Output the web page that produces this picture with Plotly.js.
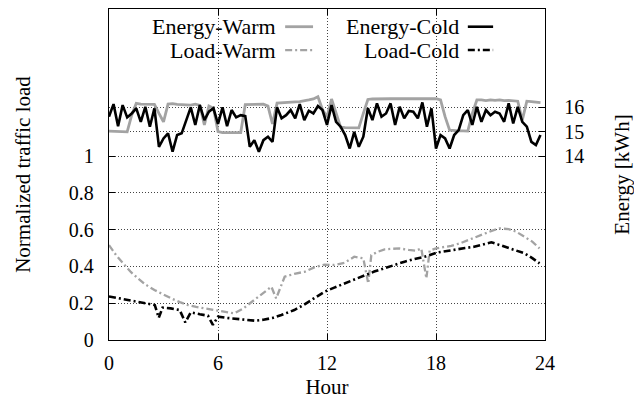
<!DOCTYPE html>
<html>
<head>
<meta charset="utf-8">
<script src="https://cdn.plot.ly/plotly-3.0.1.min.js"></script>
<style>
html,body{margin:0;padding:0;background:#fff;}
#chart{width:634px;height:407px;}
#chart text{font-family:"Liberation Serif" !important;}
</style>
</head>
<body>
<div id="chart"></div>
<script>
// ---- data ----
const seriesNames = ["Energy-Warm", "Energy-Cold", "Load-Warm", "Load-Cold"];

const energyHours = [
 0,0.25,0.5,0.75,1,1.25,1.5,1.75,2,2.25,2.5,2.75,3,3.25,3.5,3.75,
 4,4.25,4.5,4.75,5,5.25,5.5,5.75,6,6.25,6.5,6.75,7,7.25,7.5,7.75,
 8,8.25,8.5,8.75,9,9.25,9.5,9.75,10,10.25,10.5,10.75,11,11.25,11.5,11.75,
 12,12.25,12.5,12.75,13,13.25,13.5,13.75,14,14.25,14.5,14.75,15,15.25,15.5,15.75,
 16,16.25,16.5,16.75,17,17.25,17.5,17.75,18,18.25,18.5,18.75,19,19.25,19.5,19.75,
 20,20.25,20.5,20.75,21,21.25,21.5,21.75,22,22.25,22.5,22.75,23,23.25,23.5,23.75
];

const energyWarm = [
 15.02,15.02,14.99,14.99,14.99,15.67,16.15,16.12,16.11,16.11,16.11,15.74,15.40,16.12,16.14,16.11,
 16.10,16.11,16.08,16.12,16.07,15.27,16.04,15.95,15.00,14.96,14.96,14.95,14.96,14.96,16.10,16.11,
 16.12,16.12,16.12,16.04,15.31,16.16,16.18,16.19,16.19,16.21,16.22,16.24,16.29,16.33,16.42,15.90,
 15.60,16.33,15.74,15.18,15.16,15.15,15.15,15.15,15.74,16.31,16.33,16.34,16.34,16.33,16.34,16.34,
 16.34,16.35,16.34,16.34,16.35,16.34,16.34,16.34,16.34,16.29,15.61,15.06,15.03,15.03,15.03,15.02,
 15.74,16.29,16.29,16.26,16.29,16.27,16.29,16.26,16.27,16.24,16.24,15.47,16.24,16.22,16.19,16.18
];

const energyCold = [
 15.61,16.12,15.22,16.08,15.58,15.74,15.95,15.40,16.01,15.20,15.95,14.38,14.72,14.93,14.18,14.86,
 14.93,15.44,15.99,15.27,16.08,15.47,15.81,15.95,15.31,15.99,15.22,15.88,15.58,15.67,15.63,14.38,
 14.65,14.18,14.65,14.79,14.58,15.99,15.54,15.67,15.88,15.54,16.12,15.47,15.85,15.74,16.04,15.88,
 15.27,16.08,15.40,15.20,14.86,14.31,14.99,14.38,14.79,15.95,15.47,16.15,15.61,15.74,16.15,15.27,
 16.01,15.54,15.84,15.81,15.54,16.19,15.20,15.95,14.31,14.86,14.72,14.31,14.86,15.06,15.67,15.88,
 15.27,16.01,15.40,15.88,15.67,15.81,15.74,15.40,16.15,15.33,16.01,15.40,15.20,14.58,14.45,14.86
];

const loadWarmHours = [0,0.4,0.86,1.2,1.6,2.0,2.5,3.0,3.43,3.9,4.35,4.8,5.27,5.6,6.0,6.5,6.9,7.4,8.0,8.5,8.94,9.2,9.67,10.2,10.77,11.3,11.87,12.4,12.97,13.5,14.0,14.27,14.44,14.8,15.17,15.6,15.99,16.5,16.9,17.19,17.47,17.65,18.0,18.4,18.84,19.3,19.76,20.2,20.68,21.1,21.5,22.0,22.4,22.88,23.3,23.7];
const loadWarm = [0.516,0.46,0.408,0.37,0.335,0.302,0.272,0.246,0.226,0.206,0.19,0.18,0.172,0.165,0.158,0.152,0.145,0.172,0.217,0.255,0.29,0.226,0.344,0.36,0.371,0.395,0.41,0.408,0.42,0.453,0.444,0.308,0.462,0.48,0.493,0.496,0.498,0.49,0.486,0.498,0.335,0.486,0.498,0.505,0.512,0.525,0.543,0.562,0.58,0.595,0.607,0.603,0.59,0.561,0.535,0.498];

const loadColdHours = [0,0.5,1.0,1.5,2.0,2.52,2.74,2.95,3.4,3.89,4.2,4.5,5.0,5.45,5.72,6.0,6.5,7.1,7.6,8.02,8.5,9.0,9.49,10.2,10.7,11.14,11.87,12.4,12.97,13.5,14.07,14.6,15.17,15.7,16.27,16.8,17.37,18.1,18.6,19.2,19.6,20.1,20.6,21.05,21.4,21.8,22.3,22.88,23.3,23.7];
const loadCold = [0.237,0.228,0.215,0.207,0.2,0.19,0.121,0.176,0.172,0.163,0.096,0.15,0.14,0.132,0.082,0.127,0.12,0.114,0.108,0.105,0.11,0.12,0.136,0.163,0.19,0.217,0.263,0.285,0.308,0.33,0.353,0.372,0.39,0.408,0.426,0.44,0.453,0.476,0.485,0.493,0.5,0.507,0.52,0.531,0.52,0.507,0.49,0.471,0.445,0.417];

const xTicks = [0, 6, 12, 18, 24];
const loadTicks = [0, 0.2, 0.4, 0.6, 0.8, 1];
const loadTickText = ["0", "0.2", "0.4", "0.6", "0.8", "1"];
const energyTicks = [14, 15, 16];

// ---- styles ----
const GRAY = "#a3a3a3";
const BLACK = "#000000";
const DASHDOT = "7px,3px,2px,3px";
const styles = [
  {color: GRAY, width: 2.8, dash: "solid"},
  {color: BLACK, width: 2.6, dash: "solid"},
  {color: GRAY, width: 2.3, dash: DASHDOT},
  {color: BLACK, width: 2.6, dash: DASHDOT}
];
const FONT = "Liberation Serif";

const traces = [
  {x: loadWarmHours, y: loadWarm, yaxis: "y", name: seriesNames[2]},
  {x: loadColdHours, y: loadCold, yaxis: "y", name: seriesNames[3]},
  {x: energyHours, y: energyWarm, yaxis: "y2", name: seriesNames[0]},
  {x: energyHours, y: energyCold, yaxis: "y2", name: seriesNames[1]}
].map(t => {
  const idx = seriesNames.indexOf(t.name);
  return Object.assign(t, {type: "scatter", mode: "lines", showlegend: false,
    line: {color: styles[idx].color, width: styles[idx].width, dash: styles[idx].dash}});
});

// legend (gnuplot style: text right-aligned, sample to the right)
const legendPos = [
  {tx: 0.388, sx0: 0.404, sx1: 0.468, y: 0.9465},
  {tx: 0.807, sx0: 0.823, sx1: 0.881, y: 0.9465},
  {tx: 0.388, sx0: 0.404, sx1: 0.468, y: 0.876},
  {tx: 0.807, sx0: 0.823, sx1: 0.881, y: 0.876}
];
const annotations = seriesNames.map((n, i) => ({
  xref: "paper", yref: "paper", x: legendPos[i].tx, y: legendPos[i].y,
  xanchor: "right", yanchor: "middle", showarrow: false, text: n,
  font: {family: FONT, size: 22, color: "black"}
}));
const shapes = seriesNames.map((n, i) => ({
  type: "line", xref: "paper", yref: "paper",
  x0: legendPos[i].sx0, x1: legendPos[i].sx1, y0: legendPos[i].y, y1: legendPos[i].y,
  line: {color: styles[i].color, width: styles[i].width, dash: styles[i].dash}
}));

const tickFont = {family: FONT, size: 20, color: "black"};
const titleFont = {family: FONT, size: 21, color: "black"};

const layout = {
  width: 634, height: 407,
  margin: {l: 109, r: 89, t: 9, b: 67},
  paper_bgcolor: "#fff", plot_bgcolor: "#fff",
  font: {family: FONT, size: 20, color: "black"},
  xaxis: {
    range: [0, 24], tickvals: xTicks, ticktext: xTicks.map(String), tickfont: tickFont,
    ticks: "inside", ticklen: 6, tickcolor: "#000",
    showline: true, linecolor: "#000", linewidth: 1.3, mirror: "ticks",
    showgrid: true, gridcolor: "#444", griddash: "1px,2px", gridwidth: 1,
    zeroline: false, ticklabelstandoff: 5,
    title: {text: "Hour", font: titleFont, standoff: 6}
  },
  yaxis: {
    range: [0, 1.8], tickvals: loadTicks, ticktext: loadTickText, tickfont: tickFont,
    ticks: "inside", ticklen: 6, tickcolor: "#000",
    showline: true, linecolor: "#000", linewidth: 1.3, mirror: true,
    showgrid: true, gridcolor: "#444", griddash: "1px,2px", gridwidth: 1,
    zeroline: false, ticklabelstandoff: 10,
    title: {text: "Normalized traffic load", font: titleFont, standoff: 32}
  },
  yaxis2: {
    overlaying: "y", side: "right",
    range: [6.5, 20], tickvals: energyTicks, ticktext: energyTicks.map(String), tickfont: tickFont,
    ticks: "inside", ticklen: 6, tickcolor: "#000",
    showline: true, linecolor: "#000", linewidth: 1.3,
    showgrid: true, gridcolor: "#444", griddash: "1px,2px", gridwidth: 1,
    zeroline: false, ticklabelstandoff: 14,
    title: {text: "Energy [kWh]", font: titleFont, standoff: 32}
  },
  annotations: annotations,
  shapes: shapes,
  showlegend: false
};

Plotly.newPlot("chart", traces, layout, {staticPlot: true, displayModeBar: false});
</script>
</body>
</html>
